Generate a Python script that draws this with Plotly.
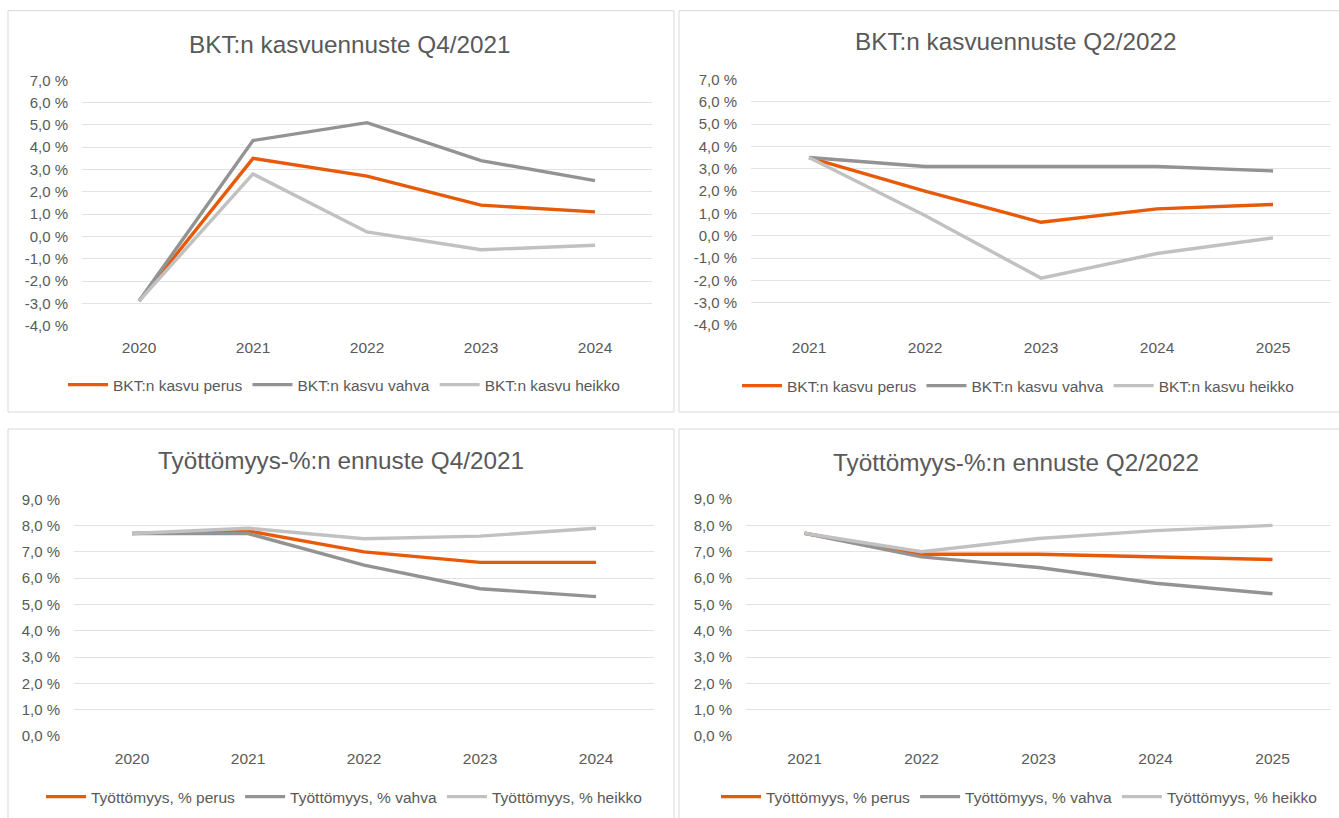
import plotly.graph_objects as go

# Data
years_a = ["2020", "2021", "2022", "2023", "2024"]
years_b = ["2021", "2022", "2023", "2024", "2025"]

bkt_q4_perus = [-2.9, 3.5, 2.7, 1.4, 1.1]
bkt_q4_vahva = [-2.9, 4.3, 5.1, 3.4, 2.5]
bkt_q4_heikko = [-2.9, 2.8, 0.2, -0.6, -0.4]

bkt_q2_perus = [3.5, 2.0, 0.6, 1.2, 1.4]
bkt_q2_vahva = [3.5, 3.1, 3.1, 3.1, 2.9]
bkt_q2_heikko = [3.5, 0.9, -1.9, -0.8, -0.1]

tt_q4_perus = [7.7, 7.8, 7.0, 6.6, 6.6]
tt_q4_vahva = [7.7, 7.7, 6.5, 5.6, 5.3]
tt_q4_heikko = [7.7, 7.9, 7.5, 7.6, 7.9]

tt_q2_perus = [7.7, 6.9, 6.9, 6.8, 6.7]
tt_q2_vahva = [7.7, 6.8, 6.4, 5.8, 5.4]
tt_q2_heikko = [7.7, 7.0, 7.5, 7.8, 8.0]

bkt_ticks = [-4, -3, -2, -1, 0, 1, 2, 3, 4, 5, 6, 7]
bkt_ticktext = ["-4,0 %", "-3,0 %", "-2,0 %", "-1,0 %", "0,0 %", "1,0 %",
                "2,0 %", "3,0 %", "4,0 %", "5,0 %", "6,0 %", "7,0 %"]
tt_ticks = [0, 1, 2, 3, 4, 5, 6, 7, 8, 9]
tt_ticktext = ["0,0 %", "1,0 %", "2,0 %", "3,0 %", "4,0 %", "5,0 %",
               "6,0 %", "7,0 %", "8,0 %", "9,0 %"]

W, H = 1339, 818
ORANGE = "#E65A0A"
DARK = "#939393"
LIGHT = "#C1C1C1"
TXT = "#595959"
FONT = "Liberation Sans, Arial, sans-serif"


def px(x):
    return x / W


def py(y):
    return 1 - y / H


fig = go.Figure()

panels = [
    # title, cats, series, legend names, x px domain, y px domain (top, bottom), yrange, ticks
    ("BKT:n kasvuennuste Q4/2021", years_a,
     [bkt_q4_perus, bkt_q4_vahva, bkt_q4_heikko],
     ["BKT:n kasvu perus", "BKT:n kasvu vahva", "BKT:n kasvu heikko"],
     (82, 652), (80.3, 325.6), [-4, 7], bkt_ticks, bkt_ticktext, 350, 45, 344, 385),
    ("BKT:n kasvuennuste Q2/2022", years_b,
     [bkt_q2_perus, bkt_q2_vahva, bkt_q2_heikko],
     ["BKT:n kasvu perus", "BKT:n kasvu vahva", "BKT:n kasvu heikko"],
     (751, 1331), (79.4, 325), [-4, 7], bkt_ticks, bkt_ticktext, 1015, 42, 1018, 386),
    ("Työttömyys-%:n ennuste Q4/2021", years_a,
     [tt_q4_perus, tt_q4_vahva, tt_q4_heikko],
     ["Työttömyys, % perus", "Työttömyys, % vahva", "Työttömyys, % heikko"],
     (74, 654), (499.3, 736), [0, 9], tt_ticks, tt_ticktext, 341, 461, 344, 797),
    ("Työttömyys-%:n ennuste Q2/2022", years_b,
     [tt_q2_perus, tt_q2_vahva, tt_q2_heikko],
     ["Työttömyys, % perus", "Työttömyys, % vahva", "Työttömyys, % heikko"],
     (746, 1331), (499, 736), [0, 9], tt_ticks, tt_ticktext, 1016, 462, 1019, 797),
]

boxes = [(8, 10.7, 674, 412), (679, 10.7, 1350, 412),
         (8, 429, 674, 830), (679, 429, 1350, 830)]

colors = [ORANGE, DARK, LIGHT]
annotations = []
shapes = []
layout_extra = {}

for i, (title, cats, series, names, xd, yd, yr, tv, tt, tx, ty, lx, ly) in enumerate(panels):
    n = "" if i == 0 else str(i + 1)
    leg = "legend" if i == 0 else "legend%d" % (i + 1)
    for s, nm, c in zip(series, names, colors):
        fig.add_trace(go.Scatter(
            x=cats, y=s, name=nm, mode="lines",
            line=dict(color=c, width=3.4),
            xaxis="x" + n, yaxis="y" + n, legend=leg,
        ))
    layout_extra["xaxis" + n] = dict(
        domain=[px(xd[0]), px(xd[1])], anchor="y" + n, type="category",
        range=[-0.5, 4.5], showgrid=False, showline=False, zeroline=False,
        tickfont=dict(size=15.5, color=TXT, family=FONT), ticklabelstandoff=11,
    )
    layout_extra["yaxis" + n] = dict(
        domain=[py(yd[1]), py(yd[0])], anchor="x" + n, range=yr,
        tickvals=tv, ticktext=tt, showgrid=True, gridcolor="#E3E3E3", gridwidth=1,
        zeroline=False, showline=False,
        tickfont=dict(size=15, color=TXT, family=FONT), ticklabelstandoff=13,
    )
    layout_extra[leg] = dict(
        orientation="h", x=px(lx), y=py(ly), xanchor="center", yanchor="middle",
        font=dict(size=15.5, color=TXT, family=FONT), bgcolor="rgba(0,0,0,0)",
        itemwidth=40, tracegroupgap=0,
    )
    annotations.append(dict(
        text=title, x=px(tx), y=py(ty), xref="paper", yref="paper",
        xanchor="center", yanchor="middle", showarrow=False,
        font=dict(size=24.3, color=TXT, family=FONT),
    ))

for (x0, y0, x1, y1) in boxes:
    shapes.append(dict(type="rect", xref="paper", yref="paper",
                       x0=px(x0), x1=px(x1), y0=py(y1), y1=py(y0),
                       line=dict(color="#D9D9D9", width=1), fillcolor="rgba(0,0,0,0)"))

fig.update_layout(
    width=W, height=H, margin=dict(l=0, r=0, t=0, b=0, autoexpand=False),
    paper_bgcolor="white", plot_bgcolor="white",
    font=dict(family=FONT, color=TXT),
    annotations=annotations, shapes=shapes, hovermode=False,
    **layout_extra,
)

fig.write_html("out.html", config={"displayModeBar": False},
               post_script="document.body.style.margin='0';document.body.style.overflow='hidden';")
